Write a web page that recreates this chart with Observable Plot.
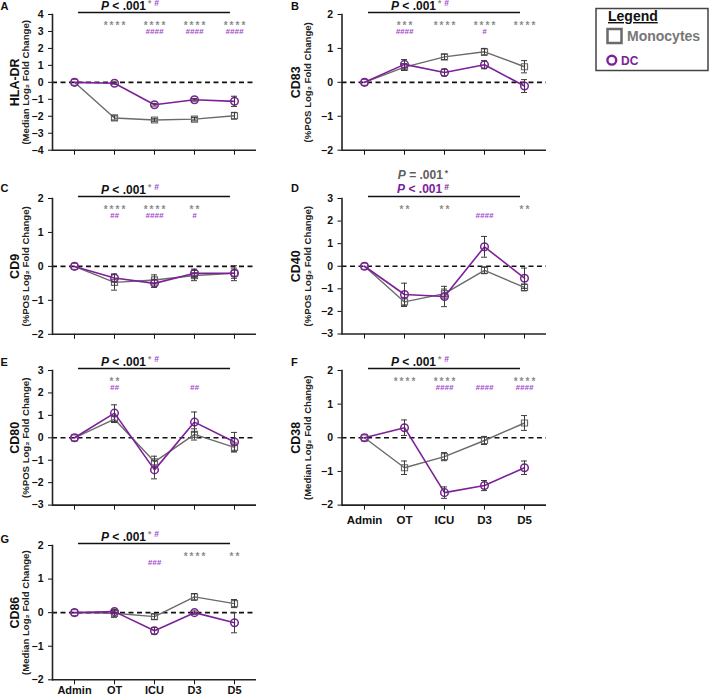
<!DOCTYPE html>
<html><head><meta charset="utf-8">
<script src="https://cdn.jsdelivr.net/npm/d3@7"></script>
<script src="https://cdn.jsdelivr.net/npm/@observablehq/plot@0.6"></script>
<style>
body{margin:0;background:#fff;}
#root{position:relative;width:709px;height:695px;overflow:hidden;font-family:"Liberation Sans",Arial,Helvetica,sans-serif;}
#root svg{position:absolute;}
</style></head><body><div id="root"></div>
<script>
const categories = ["Admin", "OT", "ICU", "D3", "D5"];

// A: HLA-DR
const hladrMono = [0, -2.1, -2.22, -2.17, -1.97];
const hladrMonoErr = [0, 0.12, 0.1, 0.1, 0.2];
const hladrDC = [0, -0.05, -1.32, -1.03, -1.12];
const hladrDCErr = [0, 0.06, 0.08, 0.08, 0.3];
const hladrStars = ["", "****", "****", "****", "****"];
const hladrHashes = ["", "", "####", "####", "####"];
const hladrTicks = [-4, -3, -2, -1, 0, 1, 2, 3, 4];

// B: CD83
const cd83Mono = [0, 0.45, 0.75, 0.9, 0.46];
const cd83MonoErr = [0, 0.1, 0.08, 0.1, 0.18];
const cd83DC = [0, 0.53, 0.29, 0.52, -0.11];
const cd83DCErr = [0, 0.14, 0.1, 0.12, 0.19];
const cd83Stars = ["", "***", "****", "****", "****"];
const cd83Hashes = ["", "####", "", "#", ""];
const cd83Ticks = [-2, -1, 0, 1, 2];

// C: CD9
const cd9Mono = [0, -0.47, -0.4, -0.27, -0.2];
const cd9MonoErr = [0, 0.23, 0.15, 0.15, 0.22];
const cd9DC = [0, -0.34, -0.5, -0.2, -0.2];
const cd9DCErr = [0, 0.12, 0.12, 0.12, 0.15];
const cd9Stars = ["", "****", "****", "**", ""];
const cd9Hashes = ["", "##", "####", "#", ""];
const cd9Ticks = [-2, -1, 0, 1, 2];

// D: CD40
const cd40Mono = [0, -1.58, -1.21, -0.18, -0.94];
const cd40MonoErr = [0, 0.2, 0.2, 0.15, 0.15];
const cd40DC = [0, -1.25, -1.34, 0.86, -0.53];
const cd40DCErr = [0, 0.5, 0.45, 0.46, 0.45];
const cd40Stars = ["", "**", "**", "", "**"];
const cd40Hashes = ["", "", "", "####", ""];
const cd40Ticks = [-3, -2, -1, 0, 1, 2, 3];

// E: CD80
const cd80Mono = [0, 0.83, -1.07, 0.15, -0.43];
const cd80MonoErr = [0, 0.15, 0.25, 0.25, 0.2];
const cd80DC = [0, 1.1, -1.43, 0.7, -0.19];
const cd80DCErr = [0, 0.37, 0.4, 0.45, 0.43];
const cd80Stars = ["", "**", "", "", ""];
const cd80Hashes = ["", "##", "", "##", ""];
const cd80Ticks = [-3, -2, -1, 0, 1, 2, 3];

// F: CD38
const cd38Mono = [0, -0.89, -0.56, -0.08, 0.44];
const cd38MonoErr = [0, 0.2, 0.12, 0.12, 0.22];
const cd38DC = [0, 0.3, -1.63, -1.42, -0.89];
const cd38DCErr = [0, 0.23, 0.17, 0.15, 0.2];
const cd38Stars = ["", "****", "****", "", "****"];
const cd38Hashes = ["", "", "####", "####", "####"];
const cd38Ticks = [-2, -1, 0, 1, 2];

// G: CD86
const cd86Mono = [0, -0.02, -0.12, 0.47, 0.27];
const cd86MonoErr = [0, 0.12, 0.08, 0.1, 0.12];
const cd86DC = [0, 0.03, -0.54, 0, -0.3];
const cd86DCErr = [0, 0.05, 0.1, 0.05, 0.3];
const cd86Stars = ["", "", "", "****", "**"];
const cd86Hashes = ["", "", "###", "", ""];
const cd86Ticks = [-2, -1, 0, 1, 2];

const medianSub = "(Median Log\u2082 Fold Change)";
const posSub = "(%POS Log\u2082 Fold Change)";

const GRAY = "#6a6a6a", PURPLE = "#7c2198", STAR = "#8c8c8c", HASH = "#a246cf", ERR = "#3a3a3a";
const FONT = '"Liberation Sans", Arial, Helvetica, sans-serif';

const pStd = [{pre: "P", text: " < .001", color: "#111", sups: [{t: "*", c: STAR}, {t: "#", c: HASH}], dx: -24, dy: -4}];

const panels = [
  {letter: "A", col: 0, yTop: 14.3, yBot: 150, domain: [-4, 4], ticks: hladrTicks, title: "HLA-DR", sub: medianSub,
   mono: hladrMono, monoErr: hladrMonoErr, dc: hladrDC, dcErr: hladrDCErr, stars: hladrStars, hashes: hladrHashes, pLines: pStd, xLabels: false},
  {letter: "B", col: 1, yTop: 14.3, yBot: 150, domain: [-2, 2], ticks: cd83Ticks, title: "CD83", sub: posSub,
   mono: cd83Mono, monoErr: cd83MonoErr, dc: cd83DC, dcErr: cd83DCErr, stars: cd83Stars, hashes: cd83Hashes, pLines: pStd, xLabels: false},
  {letter: "C", col: 0, yTop: 197.5, yBot: 333.3, domain: [-2, 2], ticks: cd9Ticks, title: "CD9", sub: posSub,
   mono: cd9Mono, monoErr: cd9MonoErr, dc: cd9DC, dcErr: cd9DCErr, stars: cd9Stars, hashes: cd9Hashes, pLines: pStd, xLabels: false},
  {letter: "D", col: 1, yTop: 197.8, yBot: 333.3, domain: [-3, 3], ticks: cd40Ticks, title: "CD40", sub: posSub,
   mono: cd40Mono, monoErr: cd40MonoErr, dc: cd40DC, dcErr: cd40DCErr, stars: cd40Stars, hashes: cd40Hashes,
   pLines: [
     {pre: "P", text: " = .001", color: "#5e5e5e", sups: [{t: "*", c: "#5e5e5e"}], dx: -21, dy: -19},
     {pre: "P", text: " < .001", color: PURPLE, sups: [{t: "#", c: PURPLE}], dx: -21, dy: -5}
   ], xLabels: false},
  {letter: "E", col: 0, yTop: 369.7, yBot: 504.3, domain: [-3, 3], ticks: cd80Ticks, title: "CD80", sub: posSub,
   mono: cd80Mono, monoErr: cd80MonoErr, dc: cd80DC, dcErr: cd80DCErr, stars: cd80Stars, hashes: cd80Hashes, pLines: pStd, xLabels: false},
  {letter: "F", col: 1, yTop: 369.7, yBot: 504.3, domain: [-2, 2], ticks: cd38Ticks, title: "CD38", sub: medianSub,
   mono: cd38Mono, monoErr: cd38MonoErr, dc: cd38DC, dcErr: cd38DCErr, stars: cd38Stars, hashes: cd38Hashes, pLines: pStd, xLabels: true, xPad: 6, xFont: 11.5},
  {letter: "G", col: 0, yTop: 545, yBot: 679.3, domain: [-2, 2], ticks: cd86Ticks, title: "CD86", sub: medianSub,
   mono: cd86Mono, monoErr: cd86MonoErr, dc: cd86DC, dcErr: cd86DCErr, stars: cd86Stars, hashes: cd86Hashes, pLines: pStd, xLabels: true, xPad: 1.5, xFont: 11}
];

const root = document.getElementById("root");

function drawPanel(p) {
  const mt = 30, mb = p.xLabels ? 24 : 10, mr = 8;
  const left = p.col === 0 ? 0 : 285;
  const axisX = p.col === 0 ? 52 : 341.5;
  const right = p.col === 0 ? 256 : 546;
  const width = right + mr - left;
  const height = (p.yBot - p.yTop) + mt + mb;
  const rows = categories.map((c, i) => ({cat: c, mono: p.mono[i], monoErr: p.monoErr[i], dc: p.dc[i], dcErr: p.dcErr[i]}));
  const monoE = rows.filter(d => d.monoErr > 0);
  const dcE = rows.filter(d => d.dcErr > 0);
  const sRows = categories.map((c, i) => ({cat: c, s: p.stars[i].split("").join("\u2009")})).filter(d => d.s);
  const hRows = categories.map((c, i) => ({cat: c, h: p.hashes[i]})).filter(d => d.h);
  const tdx = p.col === 0 ? -38 : -46;
  const sdx = p.col === 0 ? -26.5 : -34.5;
  const chart = Plot.plot({
    width, height,
    marginLeft: axisX - left, marginRight: mr, marginTop: mt, marginBottom: mb,
    style: {fontFamily: FONT, fontSize: "10px", fontWeight: "bold", background: "none", color: "#111", overflow: "visible"},
    x: {type: "point", domain: categories, padding: 0.5},
    y: {domain: p.domain},
    marks: [
      Plot.ruleY([0], {stroke: "#111", strokeWidth: 1.6, strokeDasharray: "5,3.5"}),
      Plot.axisY({ticks: p.ticks, tickSize: 4, tickPadding: 5, fontSize: 10.5, label: null, tickFormat: d3.format("d")}),
      Plot.axisX({tickSize: 5, tickPadding: p.xPad || 3, fontSize: p.xFont || 11.5, label: null, tickFormat: p.xLabels ? (d => d) : (() => "")}),
      Plot.frame({anchor: "left", stroke: "#222", strokeWidth: 1.6}),
      Plot.ruleY([p.domain[0]], {stroke: "#222", strokeWidth: 1.6}),
      Plot.text([p.title], {frameAnchor: "left", textAnchor: "middle", dx: tdx, rotate: -90, fontSize: 12.5, fontWeight: "bold", fill: "#111"}),
      Plot.text([p.sub], {frameAnchor: "left", textAnchor: "middle", dx: sdx, rotate: -90, fontSize: 9.6, fontWeight: "bold", fill: "#222"}),
      Plot.ruleY([p.domain[1]], {y: d => d, x1: () => categories[0], x2: () => categories[categories.length - 1], insetLeft: 4, insetRight: 4, dy: -2, stroke: "#111", strokeWidth: 1.6}),
      Plot.text(sRows, {x: "cat", text: "s", frameAnchor: "top", dy: 7, fill: STAR, fontSize: 10}),
      Plot.text(hRows, {x: "cat", text: "h", frameAnchor: "top", dy: 13.5, fill: HASH, fontSize: 8, fontStyle: "italic"}),
      // Monocytes
      Plot.line(rows, {x: "cat", y: "mono", stroke: GRAY, strokeWidth: 1.4}),
      Plot.dot(rows, {x: "cat", y: "mono", symbol: "square", r: 3.4, stroke: GRAY, strokeWidth: 1.2, fill: "none"}),
      Plot.ruleX(monoE, {x: "cat", y1: d => d.mono - d.monoErr, y2: d => d.mono + d.monoErr, stroke: ERR, strokeWidth: 1}),
      Plot.ruleY(monoE, {y: d => d.mono - d.monoErr, x1: "cat", x2: "cat", insetLeft: -3, insetRight: -3, stroke: ERR, strokeWidth: 1}),
      Plot.ruleY(monoE, {y: d => d.mono + d.monoErr, x1: "cat", x2: "cat", insetLeft: -3, insetRight: -3, stroke: ERR, strokeWidth: 1}),
      // DC
      Plot.line(rows, {x: "cat", y: "dc", stroke: PURPLE, strokeWidth: 1.6}),
      Plot.dot(rows, {x: "cat", y: "dc", symbol: "circle", r: 3.8, stroke: PURPLE, strokeWidth: 1.5, fill: "none"}),
      Plot.ruleX(dcE, {x: "cat", y1: d => d.dc - d.dcErr, y2: d => d.dc + d.dcErr, stroke: ERR, strokeWidth: 1}),
      Plot.ruleY(dcE, {y: d => d.dc - d.dcErr, x1: "cat", x2: "cat", insetLeft: -3, insetRight: -3, stroke: ERR, strokeWidth: 1}),
      Plot.ruleY(dcE, {y: d => d.dc + d.dcErr, x1: "cat", x2: "cat", insetLeft: -3, insetRight: -3, stroke: ERR, strokeWidth: 1})
    ]
  });
  const svg = d3.select(chart);
  const cx = chart.scale("x").apply("ICU");
  p.pLines.forEach(line => {
    const t = svg.append("text")
      .attr("x", cx + line.dx).attr("y", mt + line.dy)
      .attr("font-size", 12).attr("font-weight", "bold").attr("fill", line.color);
    t.append("tspan").attr("font-style", "italic").text(line.pre);
    t.append("tspan").text(line.text);
    line.sups.forEach((s, k) => {
      t.append("tspan").attr("dx", k === 0 ? 2 : 3).attr("dy", k === 0 ? -3.5 : 0)
        .attr("font-size", 8.5).attr("fill", s.c).text(s.t);
    });
  });
  chart.style.left = left + "px";
  chart.style.top = (p.yTop - mt) + "px";
  root.appendChild(chart);
}

panels.forEach(drawPanel);

// Overlay: panel letters and legend
const overlay = d3.create("svg").attr("width", 709).attr("height", 695)
  .style("left", "0px").style("top", "0px").style("pointer-events", "none")
  .attr("font-family", FONT).attr("font-weight", "bold");
const letterPos = {A: [0.5, 10], B: [291, 9.5], C: [0.5, 192], D: [291, 192], E: [0.5, 365.5], F: [291, 365.5], G: [0.5, 543]};
panels.forEach(p => {
  overlay.append("text").attr("x", letterPos[p.letter][0]).attr("y", letterPos[p.letter][1])
    .attr("font-size", 11).attr("fill", "#111").text(p.letter);
});
const lg = overlay.append("g");
lg.append("rect").attr("x", 596).attr("y", 8.5).attr("width", 112).attr("height", 62)
  .attr("fill", "#fff").attr("stroke", "#444").attr("stroke-width", 1.5);
lg.append("text").attr("x", 608).attr("y", 21).attr("font-size", 14).attr("fill", "#111")
  .attr("text-decoration", "underline").text("Legend");
lg.append("rect").attr("x", 607.5).attr("y", 29).attr("width", 14).attr("height", 14)
  .attr("fill", "none").attr("stroke", GRAY).attr("stroke-width", 2.5);
lg.append("text").attr("x", 627).attr("y", 41).attr("font-size", 14).attr("fill", "#777").text("Monocytes");
lg.append("circle").attr("cx", 611.8).attr("cy", 60.2).attr("r", 4.4)
  .attr("fill", "none").attr("stroke", PURPLE).attr("stroke-width", 2.4);
lg.append("text").attr("x", 621).attr("y", 65.3).attr("font-size", 12).attr("fill", PURPLE).text("DC");
root.appendChild(overlay.node());
</script>
</body></html>
